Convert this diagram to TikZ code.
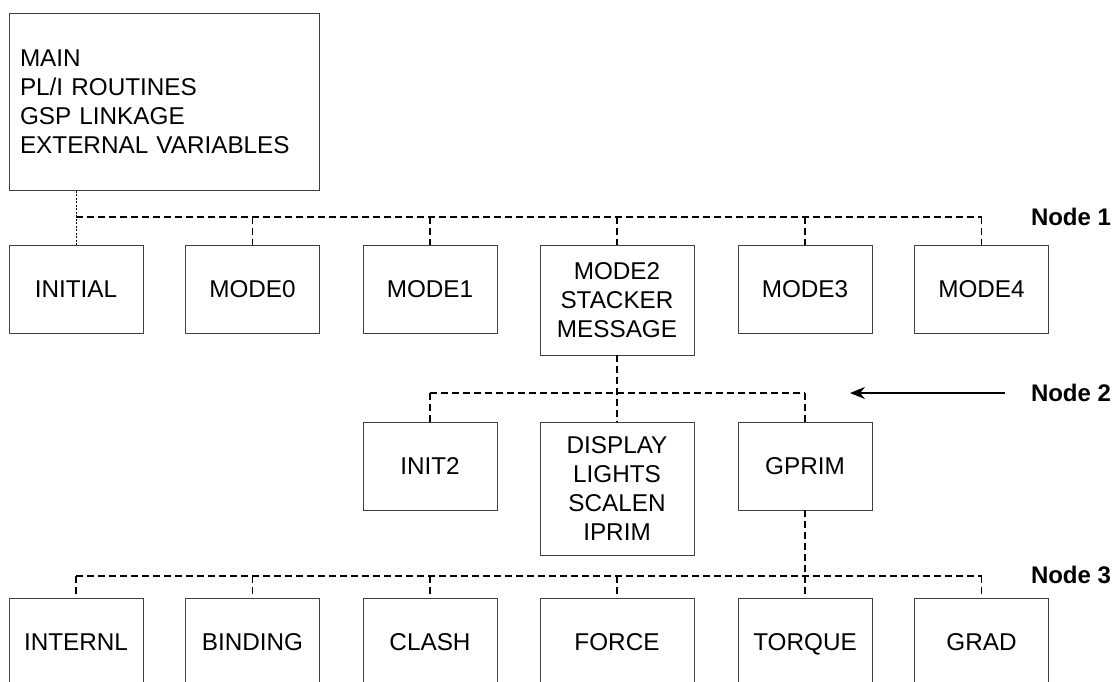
\documentclass[tikz,border=0pt]{standalone}
\usepackage{fontspec}
\setmainfont{Liberation Sans}
\usetikzlibrary{arrows.meta}
\begin{document}
\begin{tikzpicture}[x=1pt,y=-1pt,
  box/.style={draw=black!75,line width=0.9pt,minimum width=134pt,minimum height=88pt,inner sep=0pt,align=center,font=\fontsize{24.3}{29}\selectfont},
  one/.style={text height=17.4pt,text depth=0pt},
  bus/.style={draw=black,line width=1.4pt,dash pattern=on 7pt off 4pt},
  thindot/.style={draw=black,line width=0.7pt,dash pattern=on 2pt off 1.5pt},
  lab/.style={font=\fontsize{24}{29}\selectfont\bfseries,inner sep=0pt}]
\useasboundingbox (0,0) rectangle (1114,682);
\begin{scope}
\clip (0,0) rectangle (1114,682);
% main
\node[box,minimum width=310pt,minimum height=177pt,text width=288pt,inner xsep=11pt,align=left] (main) at (164,102)
  {MAIN\\PL/I ROUTINES\\GSP LINKAGE\\EXTERNAL VARIABLES};
% row 1
\node[box,one] (initial) at (76,289) {INITIAL};
\node[box,one] (mode0) at (252.5,289) {MODE0};
\node[box,one] (mode1) at (430,289) {MODE1};
\node[box,minimum width=154pt,minimum height=110pt] (mode2) at (617,300) {MODE2\\STACKER\\MESSAGE};
\node[box,one] (mode3) at (805,289) {MODE3};
\node[box,one] (mode4) at (981.5,289) {MODE4};
% row 2
\node[box,one] (init2) at (430,466) {INIT2};
\node[box,minimum width=154pt,minimum height=133pt] (display) at (617,488.5) {DISPLAY\\LIGHTS\\SCALEN\\IPRIM};
\node[box,one] (gprim) at (805,466) {GPRIM};
% row 3
\node[box,one] (internl) at (76,642) {INTERNL};
\node[box,one] (binding) at (252.5,642) {BINDING};
\node[box,one] (clash) at (430,642) {CLASH};
\node[box,one,minimum width=154pt] (force) at (617,642) {FORCE};
\node[box,one] (torque) at (805,642) {TORQUE};
\node[box,one] (grad) at (981.5,642) {GRAD};
% bus levels
\coordinate (b1) at (0,217);
\coordinate (b2) at (0,393);
\coordinate (b3) at (0,576);
% node 1 connectors
\draw[thindot] (main.south -| initial.north) -- (initial.north);
\draw[bus] (initial.north |- b1) -- (mode4.north |- b1);
\foreach \n in {mode0,mode1,mode2,mode3,mode4}
  \draw[bus] (\n.north |- b1) -- (\n.north);
% node 2 connectors
\draw[bus] (mode2.south) -- (display.north);
\draw[bus] (init2.north |- b2) -- (gprim.north |- b2);
\foreach \n in {init2,gprim}
  \draw[bus] (\n.north |- b2) -- (\n.north);
% node 3 connectors
\draw[bus] (gprim.south) -- (torque.north);
\draw[bus] (internl.north |- b3) -- (grad.north |- b3);
\foreach \n in {internl,binding,clash,force,grad}
  \draw[bus] (\n.north |- b3) -- (\n.north);
% labels
\node[lab] (n1) at (1071,217) {Node 1};
\node[lab] (n2) at (1071,393) {Node 2};
\node[lab] (n3) at (1071,575) {Node 3};
\coordinate (a2s) at (1005,393);
\coordinate (a2e) at (850,393);
\draw[line width=1.3pt,-{Stealth[length=15pt,width=12pt]}] (a2s) -- (a2e);
\end{scope}
\end{tikzpicture}
\end{document}
